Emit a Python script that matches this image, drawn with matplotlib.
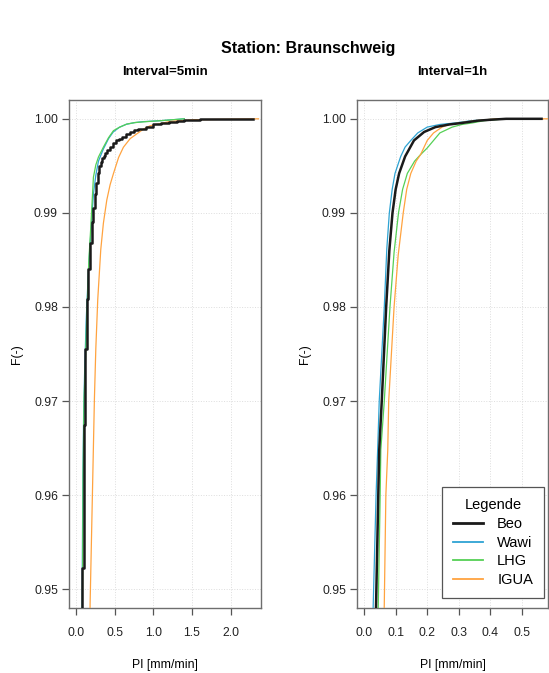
import matplotlib
matplotlib.use("Agg")
import matplotlib.pyplot as plt
from matplotlib.lines import Line2D

plt.rcParams['font.family'] = ['Liberation Sans', 'DejaVu Sans']

# ---- data (x = PI [mm/min], F = ECDF) ----
# Interval = 5min
beo_5_x = [0.06, 0.08, 0.10, 0.12, 0.14, 0.16, 0.18, 0.20, 0.22, 0.24, 0.26, 0.28, 0.30,
           0.32, 0.34, 0.36, 0.38, 0.40, 0.44, 0.48, 0.52, 0.56, 0.60, 0.65, 0.70, 0.75,
           0.80, 0.90, 1.00, 1.10, 1.20, 1.30, 1.40, 1.60, 2.29]
beo_5_f = [0.940, 0.9522, 0.9674, 0.9755, 0.9808, 0.9840, 0.9868, 0.9890, 0.9905, 0.9920,
           0.9932, 0.9942, 0.9950, 0.9954, 0.9958, 0.9961, 0.9964, 0.9967, 0.9970, 0.9974,
           0.9977, 0.9979, 0.9981, 0.9984, 0.9986, 0.9988, 0.9989, 0.99915, 0.99944, 0.9996,
           0.9997, 0.9998, 0.99988, 0.99995, 1.0]
wawi_5_x = [0.076, 0.080, 0.088, 0.098, 0.11, 0.13, 0.16, 0.19, 0.224, 0.255, 0.289, 0.353,
            0.42, 0.48, 0.56, 0.65, 0.76, 0.87, 1.09, 1.40]
wawi_5_f = [0.940, 0.9522, 0.962, 0.9690, 0.9730, 0.9785, 0.9840, 0.9878, 0.9920, 0.9940,
            0.9955, 0.9968, 0.9979, 0.9986, 0.9991, 0.99942, 0.9996, 0.99970, 0.9998, 1.0]
lhg_5_x = [0.075, 0.085, 0.090, 0.103, 0.12, 0.138, 0.165, 0.19, 0.224, 0.255, 0.289, 0.353,
           0.42, 0.483, 0.56, 0.655, 0.76, 0.871, 1.09, 1.40]
lhg_5_f = [0.940, 0.9524, 0.9620, 0.9703, 0.9740, 0.9790, 0.9850, 0.9885, 0.9938, 0.9951,
           0.99594, 0.99699, 0.9980, 0.99874, 0.9991, 0.99944, 0.9996, 0.99968, 0.9998, 1.0]
igua_5_x = [0.176, 0.181, 0.211, 0.237, 0.255, 0.28, 0.319, 0.353, 0.397, 0.44, 0.483, 0.55,
            0.612, 0.70, 0.785, 0.87, 0.957, 1.216, 1.52, 2.36]
igua_5_f = [0.940, 0.9484, 0.96014, 0.97032, 0.97558, 0.9808, 0.9861, 0.98891, 0.99137,
            0.9930, 0.99418, 0.9959, 0.99698, 0.9979, 0.9984, 0.9989, 0.99926, 0.99972,
            0.9999, 1.0]

# Interval = 1h
beo_1_x = [0.036, 0.038, 0.045, 0.048, 0.056, 0.070, 0.080, 0.090, 0.100, 0.111, 0.130,
           0.158, 0.19, 0.226, 0.27, 0.31, 0.36, 0.40, 0.45, 0.562]
beo_1_f = [0.945, 0.9484, 0.9600, 0.9648, 0.9700, 0.9800, 0.9860, 0.9900, 0.9925, 0.9942,
           0.9960, 0.9977, 0.9986, 0.99912, 0.9994, 0.99956, 0.9998, 0.9999, 1.0, 1.0]
wawi_1_x = [0.027, 0.029, 0.038, 0.043, 0.048, 0.064, 0.072, 0.080, 0.089, 0.098, 0.116,
            0.130, 0.148, 0.17, 0.200, 0.24, 0.289, 0.34, 0.43]
wawi_1_f = [0.945, 0.9484, 0.9600, 0.9648, 0.9700, 0.9800, 0.9862, 0.9900, 0.9925, 0.9942,
            0.9960, 0.9970, 0.9977, 0.9985, 0.99912, 0.9994, 0.99956, 0.9998, 1.0]
lhg_1_x = [0.043, 0.045, 0.051, 0.053, 0.064, 0.082, 0.095, 0.109, 0.122, 0.137, 0.16,
           0.179, 0.20, 0.24, 0.279, 0.31, 0.342, 0.38, 0.45]
lhg_1_f = [0.945, 0.9484, 0.9600, 0.9648, 0.9700, 0.9800, 0.9858, 0.9900, 0.9925, 0.9942,
           0.9955, 0.9962, 0.9969, 0.9985, 0.99912, 0.9994, 0.99956, 0.9998, 1.0]
igua_1_x = [0.062, 0.064, 0.069, 0.075, 0.078, 0.095, 0.108, 0.124, 0.135, 0.148, 0.165,
            0.179, 0.20, 0.22, 0.247, 0.27, 0.30, 0.35, 0.42, 0.59]
igua_1_f = [0.945, 0.9484, 0.9600, 0.9648, 0.9700, 0.9800, 0.9855, 0.9900, 0.9925, 0.9942,
            0.9955, 0.9962, 0.9977, 0.9985, 0.99912, 0.9994, 0.99956, 0.9998, 1.0, 1.0]

names = ["Beo", "Wawi", "LHG", "IGUA"]
colors = ["#1a1a1a", "#2ea3d3", "#55d055", "#ffa33f"]
widths = [1.8, 0.9, 0.9, 0.9]

panels = [
    ("Interval=5min", [(beo_5_x, beo_5_f), (wawi_5_x, wawi_5_f), (lhg_5_x, lhg_5_f), (igua_5_x, igua_5_f)],
     (-0.092, 2.392), [0.0, 0.5, 1.0, 1.5, 2.0], ["0.0", "0.5", "1.0", "1.5", "2.0"]),
    ("Interval=1h", [(beo_1_x, beo_1_f), (wawi_1_x, wawi_1_f), (lhg_1_x, lhg_1_f), (igua_1_x, igua_1_f)],
     (-0.0224, 0.5824), [0.0, 0.1, 0.2, 0.3, 0.4, 0.5], ["0.0", "0.1", "0.2", "0.3", "0.4", "0.5"]),
]
yticks = [0.95, 0.96, 0.97, 0.98, 0.99, 1.00]

W, H = 549, 673
fig = plt.figure(figsize=(W / 100, H / 100), dpi=100)

# axes boxes in pixel coords (left, top, right, bottom)
boxes = [(69, 100, 261, 608), (357, 100, 548, 608)]

for k, (title, series, xlim, xt, xtl) in enumerate(panels):
    l, t, r, b = boxes[k]
    ax = fig.add_axes([l / W, (H - b) / H, (r - l) / W, (b - t) / H])
    for i, (xs, fs) in enumerate(series):
        ds = 'steps-post' if (i == 0 and k == 0) else 'default'
        ax.plot(xs, fs, color=colors[i], lw=widths[i], drawstyle=ds,
                zorder=5 if i == 0 else 3)
    ax.set_xlim(*xlim)
    ax.set_ylim(0.948, 1.002)
    ax.set_xticks(xt)
    ax.set_xticklabels(xtl)
    ax.set_yticks(yticks)
    ax.set_yticklabels(["%.2f" % v for v in yticks])
    ax.grid(True, color="#dddddd", linestyle=":", lw=0.7)
    ax.set_axisbelow(True)
    for s in ax.spines.values():
        s.set_color("#6e6e6e")
        s.set_linewidth(1.0)
    ax.tick_params(length=5, width=0.9, color="#555555", labelsize=8.8,
                   labelcolor="#222222")
    ax.tick_params(axis="x", pad=9)
    ax.tick_params(axis="y", pad=3)
    ax.set_title(title, fontsize=9.5, fontweight="bold", pad=18)
    ax.set_xlabel("PI [mm/min]", fontsize=8.8, labelpad=14)
    ax.set_ylabel("F(-)", fontsize=8.8, labelpad=8)

    if k == 1:
        handles = [Line2D([], [], color=colors[i], lw=2.0 if i == 0 else 1.3) for i in range(4)]
        leg = ax.legend(handles, names, title="Legende", loc="lower right",
                        bbox_to_anchor=(0.979, 0.0197), borderaxespad=0,
                        fontsize=10.5, title_fontsize=10.5, fancybox=False,
                        edgecolor="#555555", framealpha=1, handlelength=2.0,
                        handletextpad=1.0, labelspacing=0.32, borderpad=0.75)
        leg.get_frame().set_linewidth(0.9)

fig.text(308 / W, 1 - 48 / H, "Station: Braunschweig", fontsize=11.5,
         fontweight="bold", ha="center", va="center")

fig.savefig("out.png", dpi=100)
